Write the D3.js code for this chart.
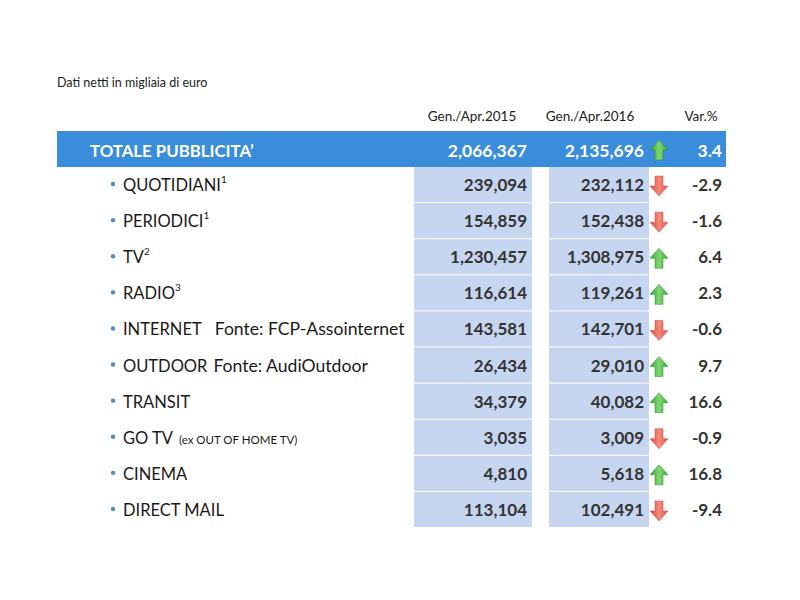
<!DOCTYPE html>
<html>
<head>
<meta charset="utf-8">
<script src="https://cdn.jsdelivr.net/npm/d3@7"></script>
<style>
  body { margin: 0; background: #fff; }
  text { font-family: Lato, "Open Sans", sans-serif; }
</style>
</head>
<body>
<div id="chart"></div>
<script>
// values (migliaia di euro)
var categories = ["QUOTIDIANI", "PERIODICI", "TV", "RADIO", "INTERNET", "OUTDOOR",
                  "TRANSIT", "GO TV", "CINEMA", "DIRECT MAIL"];
var supers = ["1", "1", "2", "3", "", "", "", "", "", ""];
var notes = ["", "", "", "", "Fonte: FCP-Assointernet", "Fonte: AudiOutdoor",
             "", "(ex OUT OF HOME TV)", "", ""];
var v2015 = [239094, 154859, 1230457, 116614, 143581, 26434, 34379, 3035, 4810, 113104];
var v2016 = [232112, 152438, 1308975, 119261, 142701, 29010, 40082, 3009, 5618, 102491];
var varPct = [-2.9, -1.6, 6.4, 2.3, -0.6, 9.7, 16.6, -0.9, 16.8, -9.4];
var total = {label: "TOTALE PUBBLICITA\u2019", v2015: 2066367, v2016: 2135696, varPct: 3.4};
var colHeaders = ["Gen./Apr.2015", "Gen./Apr.2016", "Var.%"];

var width = 800, height = 600;
var locale = d3.formatLocale({decimal: ".", thousands: ",", grouping: [3],
                              currency: ["", ""], minus: "-"});
var fmt = locale.format(",");
var fmtPct = locale.format(".1f");

var svg = d3.select("#chart").append("svg")
    .attr("width", width)
    .attr("height", height);

var defs = svg.append("defs");
var gUp = defs.append("linearGradient").attr("id", "gUp")
    .attr("x1", 0).attr("x2", 1).attr("y1", 0).attr("y2", 0);
gUp.append("stop").attr("offset", "0%").attr("stop-color", "#2f9b3a");
gUp.append("stop").attr("offset", "50%").attr("stop-color", "#7fd86e");
gUp.append("stop").attr("offset", "100%").attr("stop-color", "#3aa843");
var gDown = defs.append("linearGradient").attr("id", "gDown")
    .attr("x1", 0).attr("x2", 1).attr("y1", 0).attr("y2", 0);
gDown.append("stop").attr("offset", "0%").attr("stop-color", "#d9443c");
gDown.append("stop").attr("offset", "50%").attr("stop-color", "#f58a7a");
gDown.append("stop").attr("offset", "100%").attr("stop-color", "#e0554b");

// row scale
var y = d3.scaleBand()
    .domain(categories)
    .range([167, 528])
    .paddingInner(0);

// column positions (right edges of numbers)
var col = {
    c1Left: 414, c1Right: 532, n1: 527,
    c2Left: 549, c2Right: 649, n2: 644,
    arrow: 659, pct: 722
};

// subtitle
svg.append("text")
    .attr("x", 57).attr("y", 87)
    .attr("font-size", 12.5)
    .attr("fill", "#222")
    .text("Dati netti in migliaia di euro");

// column headers
[472, 590, 701].forEach(function(cx, i) {
    svg.append("text")
        .attr("x", cx).attr("y", 121)
        .attr("text-anchor", "middle")
        .attr("font-size", 13.5)
        .attr("fill", "#222")
        .text(colHeaders[i]);
});

// light blue column backgrounds
[[col.c1Left, col.c1Right], [col.c2Left, col.c2Right]].forEach(function(c) {
    svg.selectAll(null)
        .data(categories)
        .enter().append("rect")
        .attr("x", c[0])
        .attr("y", d => y(d))
        .attr("width", c[1] - c[0])
        .attr("height", y.bandwidth() - 1)
        .attr("fill", "#c6d6f1");
});

// header bar
svg.append("rect")
    .attr("x", 57).attr("y", 131)
    .attr("width", 669).attr("height", 36)
    .attr("fill", "#3a8ddb");

var hy = 157;
svg.append("text").attr("x", 90).attr("y", hy)
    .attr("font-size", 16.8).attr("font-weight", "bold").attr("fill", "#fff")
    .text(total.label);
svg.append("text").attr("x", col.n1).attr("y", hy)
    .attr("text-anchor", "end")
    .attr("font-size", 17.5).attr("font-weight", "bold").attr("fill", "#fff")
    .text(fmt(total.v2015));
svg.append("text").attr("x", col.n2).attr("y", hy)
    .attr("text-anchor", "end")
    .attr("font-size", 17.5).attr("font-weight", "bold").attr("fill", "#fff")
    .text(fmt(total.v2016));
svg.append("text").attr("x", col.pct).attr("y", hy)
    .attr("text-anchor", "end")
    .attr("font-size", 17.5).attr("font-weight", "bold").attr("fill", "#fff")
    .text(fmtPct(total.varPct));

function arrow(g, cx, cy, up) {
    // arrow 18 wide, 20 tall
    var p = up
        ? [[0, -10], [9, 0], [4, 0], [4, 10], [-4, 10], [-4, 0], [-9, 0]]
        : [[0, 10], [9, 0], [4, 0], [4, -10], [-4, -10], [-4, 0], [-9, 0]];
    g.append("path")
        .attr("d", d3.line()(p.map(q => [cx + q[0], cy + q[1]])) + "Z")
        .attr("fill", up ? "url(#gUp)" : "url(#gDown)")
        .attr("stroke", up ? "#2e8a36" : "#cf4a42")
        .attr("stroke-width", 0.5);
}
arrow(svg, col.arrow, 150, total.varPct >= 0);

// data rows
var rows = svg.selectAll("g.row")
    .data(categories)
    .enter().append("g")
    .attr("class", "row")
    .attr("transform", d => "translate(0," + (y(d) + y.bandwidth() / 2) + ")");

rows.append("circle")
    .attr("cx", 113).attr("cy", -1)
    .attr("r", 2.2)
    .attr("fill", "#4a8cc8");

var lab = rows.append("text")
    .attr("x", 123).attr("y", 6)
    .attr("font-size", 16.5)
    .attr("fill", "#1a1a1a");
lab.append("tspan").text(d => d);
lab.append("tspan")
    .attr("font-size", 10).attr("dy", -8)
    .text((d, i) => supers[i]);
lab.append("tspan")
    .attr("dy", (d, i) => supers[i] ? 8 : 0)
    .attr("font-size", (d, i) => i === 7 ? 11.5 : 17.6)
    .attr("dx", (d, i) => i === 4 ? 13 : (notes[i] ? 6 : 0))
    .text((d, i) => notes[i]);

rows.append("text")
    .attr("x", col.n1).attr("y", 6)
    .attr("text-anchor", "end")
    .attr("font-size", 17).attr("font-weight", "bold").attr("fill", "#333")
    .text((d, i) => fmt(v2015[i]));

rows.append("text")
    .attr("x", col.n2).attr("y", 6)
    .attr("text-anchor", "end")
    .attr("font-size", 17).attr("font-weight", "bold").attr("fill", "#333")
    .text((d, i) => fmt(v2016[i]));

rows.each(function(d, i) {
    arrow(d3.select(this), col.arrow, 1, varPct[i] >= 0);
});

rows.append("text")
    .attr("x", col.pct).attr("y", 6)
    .attr("text-anchor", "end")
    .attr("font-size", 17).attr("font-weight", "bold").attr("fill", "#333")
    .text((d, i) => fmtPct(varPct[i]));
</script>
</body>
</html>
